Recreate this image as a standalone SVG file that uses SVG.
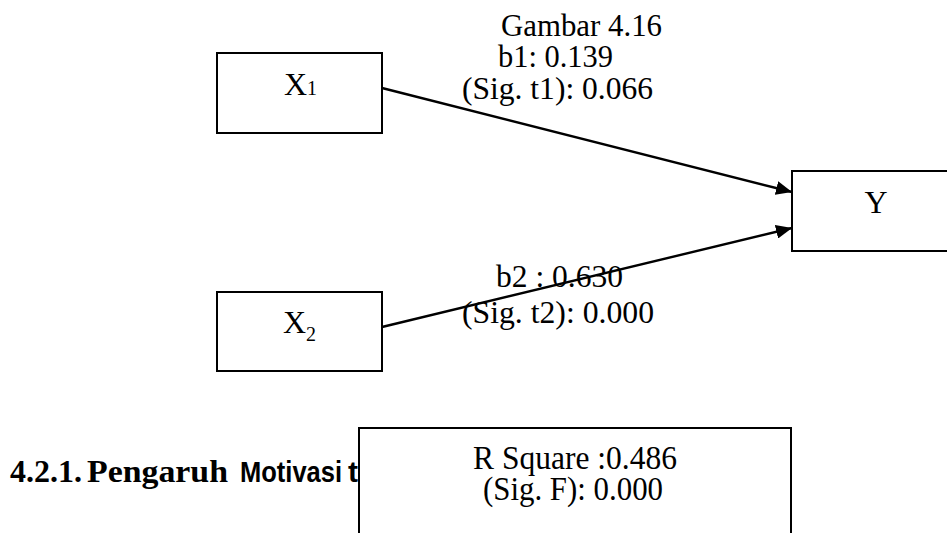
<svg xmlns="http://www.w3.org/2000/svg" width="947" height="533" viewBox="0 0 947 533">
  <style>
    .box { fill: #ffffff; stroke: #000000; stroke-width: 2; }
    .lbl { font-family: "Liberation Serif", "Times New Roman", serif; font-size: 32px; fill: #000000; }
    .big { font-size: 34px; }
    .sub { font-size: 20px; }
    .edge { stroke: #000000; stroke-width: 2.4; fill: none; marker-end: url(#arrow); }
    .head-serif { font-family: "Liberation Serif", "Times New Roman", serif; font-weight: bold; font-size: 31px; fill: #000000; }
    .head-sans { font-family: "Liberation Sans", Arial, sans-serif; font-weight: bold; font-size: 30px; fill: #000000; }
  </style>
  <defs>
    <marker id="arrow" viewBox="0 0 16 14" refX="16" refY="7" markerWidth="16" markerHeight="14" markerUnits="userSpaceOnUse" orient="auto">
      <path d="M0,0 L16,7 L0,14 Z" fill="#000000"/>
    </marker>
  </defs>
  <rect width="947" height="533" fill="#ffffff"/>

  <!-- caption -->
  <text class="lbl" x="501" y="36" textLength="161" lengthAdjust="spacingAndGlyphs">Gambar 4.16</text>

  <!-- paths from predictors to Y -->
  <g id="connectors">
    <line class="edge" x1="382" y1="88" x2="792" y2="192"/>
    <line class="edge" x1="382" y1="327" x2="792" y2="228"/>
    <text class="lbl" x="498" y="67" textLength="115" lengthAdjust="spacingAndGlyphs">b1: 0.139</text>
    <text class="lbl" x="462" y="99" textLength="191" lengthAdjust="spacingAndGlyphs">(Sig. t1): 0.066</text>
    <text class="lbl" x="496" y="287" textLength="127" lengthAdjust="spacingAndGlyphs">b2 : 0.630</text>
    <text class="lbl" x="462" y="323" textLength="192" lengthAdjust="spacingAndGlyphs">(Sig. t2): 0.000</text>
  </g>

  <g id="node-x1">
    <rect class="box" x="217" y="53" width="165" height="80"/>
    <text class="lbl" x="284" y="95">X<tspan class="sub">1</tspan></text>
  </g>

  <g id="node-x2">
    <rect class="box" x="217" y="292" width="165" height="79"/>
    <text class="lbl" x="283" y="333">X<tspan class="sub" dy="8">2</tspan></text>
  </g>

  <g id="node-y">
    <rect class="box" x="792" y="171" width="180" height="80"/>
    <text class="lbl" x="876" y="213" text-anchor="middle">Y</text>
  </g>

  <!-- section heading, partly covered by the model summary box -->
  <text y="482">
    <tspan class="head-serif" x="10" textLength="72" lengthAdjust="spacingAndGlyphs">4.2.1.</tspan>
    <tspan class="head-serif" x="87" textLength="141" lengthAdjust="spacingAndGlyphs">Pengaruh</tspan>
    <tspan class="head-sans" x="240" textLength="102" lengthAdjust="spacingAndGlyphs">Motivasi</tspan>
    <tspan class="head-sans" x="348">t</tspan>
  </text>

  <g id="node-summary">
    <rect class="box" x="359" y="428" width="432" height="120"/>
    <text class="lbl big" x="473" y="469" textLength="204" lengthAdjust="spacingAndGlyphs">R Square :0.486</text>
    <text class="lbl big" x="483" y="500" textLength="180" lengthAdjust="spacingAndGlyphs">(Sig. F): 0.000</text>
  </g>
</svg>
